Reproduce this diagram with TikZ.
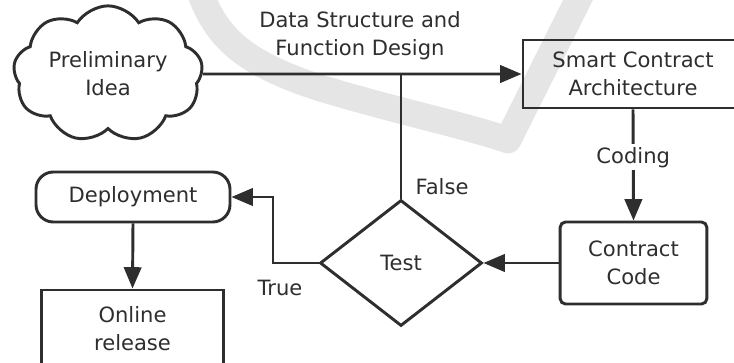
\documentclass[tikz,border=0pt]{standalone}
\usepackage{fontspec}
\setmainfont{DejaVu Sans}
\usetikzlibrary{shapes.geometric,shapes.symbols,arrows.meta}
\definecolor{inkGray}{HTML}{2E2E2E}
\definecolor{markGray}{HTML}{E5E5E5}
\tikzstyle{baseNode}=[draw = inkGray, line width = 2.2pt, text = inkGray, align = center, font = \fontsize{15.8pt}{21pt}\selectfont, inner sep = 2pt]
\tikzstyle{ideaCloud}=[baseNode, shape = cloud, cloud puffs = 9, cloud puff arc = 115, aspect = 1.6, minimum width = 142pt, minimum height = 90pt]
\tikzstyle{plainBox}=[baseNode, shape = rectangle]
\tikzstyle{roundBox}=[baseNode, shape = rectangle, rounded corners = 4pt]
\tikzstyle{pillBox}=[baseNode, shape = rectangle, rounded corners = 13pt]
\tikzstyle{testDiamond}=[baseNode, shape = diamond, minimum width = 121.5pt, minimum height = 94.5pt]

\begin{document}
\begin{tikzpicture}[x = 0.75pt, y = -0.75pt]
\tikzstyle{edgeLabel}=[text = inkGray, align = center, font = \fontsize{15.8pt}{21pt}\selectfont, inner sep = 2pt]
\tikzstyle{flowLine}=[draw = inkGray, line width = 2.2pt]
\tikzstyle{flowArrow}=[flowLine, -{Triangle[length = 16pt, width = 13pt]}]
\tikzstyle{markStroke}=[draw = markGray, line width = 20pt, line join = round, line cap = round]
\useasboundingbox (0,0) rectangle (734,363);
% faint tick behind the chart
\draw[markStroke] (198,-14) .. controls (214,35) and (240,62) .. (320,88) .. controls (400,112) and (460,124) .. (508,140) -- (585,-14);
\node[ideaCloud] (idea) at (108,74) {Preliminary\\Idea};
\node[plainBox, minimum width = 165pt, minimum height = 51pt] (arch) at (633,74) {Smart Contract\\Architecture};
\node[roundBox, minimum width = 110pt, minimum height = 61.5pt] (code) at (633.5,263) {Contract\\Code};
\node[testDiamond] (test) at (401,263) {Test};
\node[pillBox, minimum width = 145.5pt, minimum height = 37.5pt] (deploy) at (133,197) {Deployment};
\node[plainBox, minimum width = 136pt, minimum height = 58.5pt] (release) at (132.5,329) {Online\\release};
\coordinate (falseJoin) at (401,74);
\coordinate (trueBend) at (273,197);
\node[edgeLabel] (designLbl) at (360,36) {Data Structure and\\Function Design};
\node[edgeLabel] (falseLbl) at (442,187) {False};
\node[edgeLabel] (trueLbl) at (280,288) {True};
\draw[flowArrow] (idea.east) -- (arch.west);
\draw[flowLine] (test.north) -- (falseJoin);
\draw[flowArrow] (arch.south) -- (code.north) node[edgeLabel, fill = white, pos = 0.43] (codingLbl) {Coding};
\draw[flowArrow] (code.west) -- (test.east);
\draw[flowArrow] (test.west) -| (trueBend) -- (deploy.east);
\draw[flowArrow] (deploy.south) -- (release.north);
\end{tikzpicture}
\end{document}
